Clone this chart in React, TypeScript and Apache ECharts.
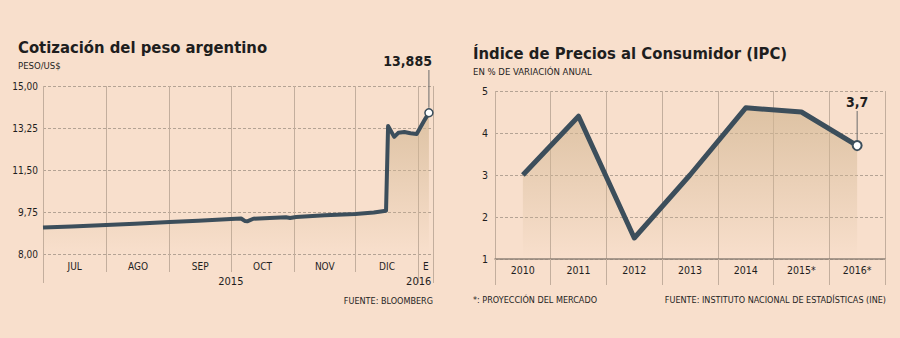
import React, { useEffect, useRef } from 'react';
import * as echarts from 'echarts';

// ---------- data ----------
const pesoDates = [
  '2015-07-01', '2015-07-15', '2015-08-01', '2015-08-15', '2015-09-01', '2015-09-15',
  '2015-10-01', '2015-10-06', '2015-10-08', '2015-10-09', '2015-10-12', '2015-10-20',
  '2015-10-28', '2015-10-30', '2015-11-02', '2015-11-16', '2015-12-01', '2015-12-10',
  '2015-12-16', '2015-12-17', '2015-12-20', '2015-12-22', '2015-12-25', '2015-12-28',
  '2015-12-31', '2016-01-04', '2016-01-06',
];
const pesoValues = [
  9.10, 9.15, 9.21, 9.26, 9.33, 9.39,
  9.46, 9.48, 9.37, 9.36, 9.47, 9.50,
  9.53, 9.50, 9.54, 9.61, 9.67, 9.73,
  9.80, 13.33, 12.88, 13.05, 13.08, 13.03,
  13.00, 13.60, 13.885,
];
const pesoLastLabel = '13,885';
const monthBoundaries = ['2015-07-01', '2015-08-01', '2015-09-01', '2015-10-01', '2015-11-01', '2015-12-01', '2016-01-01', '2016-01-08'];
const monthLabels = ['JUL', 'AGO', 'SEP', 'OCT', 'NOV', 'DIC', 'E'];
const yearAnchors = ['2015-10-01', '2016-01-01'];
const yearLabels = ['2015', '2016'];
const pesoTicks = { min: 8, max: 15, interval: 1.75 };

const ipcYears = ['2010', '2011', '2012', '2013', '2014', '2015*', '2016*'];
const ipcValues = [3.0, 4.4, 1.5, 3.0, 4.6, 4.5, 3.7];
const ipcLastLabel = '3,7';
const ipcTicks = { min: 1, max: 5, interval: 1 };

// ---------- styles ----------
const BG = '#f8dfcc';
const LINE = '#3c4e5b';
const DASH = '#b4a394';
const VLINE = '#c3ae9d';
const TEXT = '#1e1e1e';
const FONT = '"DejaVu Sans Condensed", "DejaVu Sans", sans-serif';

const DAY = 86400000;
const dayNum = (s: string) => {
  const [y, m, d] = s.split('-').map(Number);
  return Math.round(Date.UTC(y, m - 1, d) / DAY);
};
const START = dayNum(monthBoundaries[0]);
const dx = (s: string) => dayNum(s) - START;

export default function App() {
  const ref = useRef<HTMLDivElement>(null);

  useEffect(() => {
    document.body.style.margin = '0';
    const chart = echarts.init(ref.current!, undefined, { renderer: 'svg' });

    const bounds = monthBoundaries.map(dx);
    const xMin = bounds[0];
    const xMax = bounds[bounds.length - 1];
    const innerBounds = bounds.slice(1, bounds.length - 2);
    const outerBounds = [bounds[0], bounds[bounds.length - 2], bounds[bounds.length - 1]];
    const monthMids = monthLabels.map((_, i) => (bounds[i] + bounds[i + 1]) / 2);
    const yearPos = yearAnchors.map(dx);

    const gradient = () =>
      new echarts.graphic.LinearGradient(0, 0, 0, 1, [
        { offset: 0, color: 'rgba(210,182,146,1)' },
        { offset: 1, color: 'rgba(210,182,146,0)' },
      ]);

    const lastP = pesoValues.length - 1;
    const pesoData = pesoDates.map((d, i) =>
      i === lastP
        ? { value: [dx(d), pesoValues[i]], symbol: 'circle', symbolSize: 8 }
        : [dx(d), pesoValues[i]]
    );
    const lastI = ipcValues.length - 1;
    const ipcData = ipcValues.map((v, i) =>
      i === lastI ? { value: v, symbol: 'circle', symbolSize: 9 } : v
    );

    const labelStyle = { fontFamily: FONT, color: TEXT };

    const option: any = {
      animation: false,
      backgroundColor: BG,
      grid: [
        { left: 43, right: 467, top: 86, bottom: 84, outerBoundsMode: 'none', containLabel: false },
        { left: 495, right: 15, top: 91, bottom: 79, outerBoundsMode: 'none', containLabel: false },
      ],
      xAxis: [
        {
          type: 'value', gridIndex: 0, min: xMin, max: xMax, position: 'bottom',
          axisLine: { show: false },
          axisTick: { show: true, customValues: innerBounds, length: 18, lineStyle: { color: VLINE, width: 1 } },
          splitLine: { show: true, lineStyle: { color: VLINE, width: 1, type: 'solid' } },
          axisLabel: {
            show: true, customValues: monthMids, margin: 7, fontSize: 10, ...labelStyle,
            formatter: (v: number) => {
              const i = monthMids.findIndex((m) => Math.abs(m - v) < 0.6);
              return i >= 0 ? monthLabels[i] : '';
            },
          },
        },
        {
          type: 'value', gridIndex: 0, min: xMin, max: xMax, position: 'bottom',
          axisLine: { show: false },
          axisTick: { show: true, customValues: outerBounds, length: 29, lineStyle: { color: VLINE, width: 1 } },
          splitLine: { show: true, lineStyle: { color: VLINE, width: 1, type: 'solid' } },
          axisLabel: {
            show: true, customValues: yearPos, margin: 22, fontSize: 11, ...labelStyle,
            formatter: (v: number) => {
              const i = yearPos.findIndex((m) => Math.abs(m - v) < 0.6);
              return i >= 0 ? yearLabels[i] : '';
            },
          },
        },
        {
          type: 'category', gridIndex: 1, data: ipcYears, boundaryGap: true,
          axisLine: { show: true, onZero: false, lineStyle: { color: '#8f8277', width: 1.5 } },
          axisTick: { show: true, interval: 0, length: 26, lineStyle: { color: VLINE, width: 1 } },
          splitLine: { show: true, interval: 0, lineStyle: { color: VLINE, width: 1, type: 'solid' } },
          axisLabel: { show: true, interval: 0, margin: 5, fontSize: 10.5, ...labelStyle },
        },
      ],
      yAxis: [
        {
          type: 'value', gridIndex: 0, min: pesoTicks.min, max: pesoTicks.max, interval: pesoTicks.interval,
          axisLine: { show: false }, axisTick: { show: false },
          splitLine: { show: true, lineStyle: { color: DASH, width: 1, type: [3, 2] } },
          axisLabel: {
            margin: 5, fontSize: 10, ...labelStyle,
            formatter: (v: number) => v.toFixed(2).replace('.', ','),
          },
        },
        {
          type: 'value', gridIndex: 1, min: ipcTicks.min, max: ipcTicks.max, interval: ipcTicks.interval,
          axisLine: { show: false }, axisTick: { show: false },
          splitLine: { show: true, lineStyle: { color: DASH, width: 1, type: [3, 2] } },
          axisLabel: { margin: 7, fontSize: 10.5, ...labelStyle },
        },
      ],
      series: [
        {
          type: 'line', xAxisIndex: 0, yAxisIndex: 0, data: pesoData, symbol: 'none',
          silent: true, z: 3,
          lineStyle: { color: LINE, width: 4, join: 'round' },
          itemStyle: { color: '#ffffff', borderColor: LINE, borderWidth: 1.5 },
          areaStyle: { color: gradient() },
        },
        {
          type: 'line', xAxisIndex: 2, yAxisIndex: 1, data: ipcData, symbol: 'none',
          silent: true, z: 3,
          lineStyle: { color: LINE, width: 5, join: 'round' },
          itemStyle: { color: '#ffffff', borderColor: LINE, borderWidth: 2 },
          areaStyle: { color: gradient() },
        },
      ],
    };

    chart.setOption(option);

    const p1 = chart.convertToPixel({ seriesIndex: 0 }, [dx(pesoDates[lastP]), pesoValues[lastP]]) as number[];
    const p2 = chart.convertToPixel({ seriesIndex: 1 }, [lastI, ipcValues[lastI]]) as number[];

    const txt = (x: number, y: number, text: string, size: number, bold = false, align = 'left') => ({
      type: 'text', x, y, silent: true,
      style: {
        text, fontSize: size, fontFamily: FONT, fontWeight: bold ? 'bold' : 'normal',
        fill: TEXT, align, verticalAlign: 'middle',
      },
    });

    const graphics: any[] = [
      txt(18, 47.5, 'Cotización del peso argentino', 16.5, true),
      txt(18, 65.5, 'PESO/US$', 9.5),
      txt(473, 53.5, 'Índice de Precios al Consumidor (IPC)', 16.5, true),
      txt(473, 71.3, 'EN % DE VARIACIÓN ANUAL', 9.5),
      txt(433, 301, 'FUENTE: BLOOMBERG', 9, false, 'right'),
      txt(473, 300, '*: PROYECCIÓN DEL MERCADO', 9),
      txt(886, 300, 'FUENTE: INSTITUTO NACIONAL DE ESTADÍSTICAS (INE)', 9, false, 'right'),
    ];
    if (p1 && isFinite(p1[0])) {
      graphics.push(
        {
          type: 'line', silent: true, z: 1,
          shape: { x1: p1[0], y1: p1[1] - 5, x2: p1[0], y2: 70 },
          style: { stroke: '#6b6b6b', lineWidth: 1 },
        },
        txt(p1[0] + 3, 60.5, pesoLastLabel, 14, true, 'right')
      );
    }
    if (p2 && isFinite(p2[0])) {
      graphics.push(
        {
          type: 'line', silent: true, z: 1,
          shape: { x1: p2[0], y1: p2[1] - 5, x2: p2[0], y2: 111 },
          style: { stroke: '#6b6b6b', lineWidth: 1 },
        },
        txt(p2[0], 101.7, ipcLastLabel, 14, true, 'center')
      );
    }
    chart.setOption({ graphic: graphics });

    return () => chart.dispose();
  }, []);

  return (
    <div
      ref={ref}
      style={{ position: 'fixed', left: 0, top: 0, width: 900, height: 338, background: BG }}
    />
  );
}
